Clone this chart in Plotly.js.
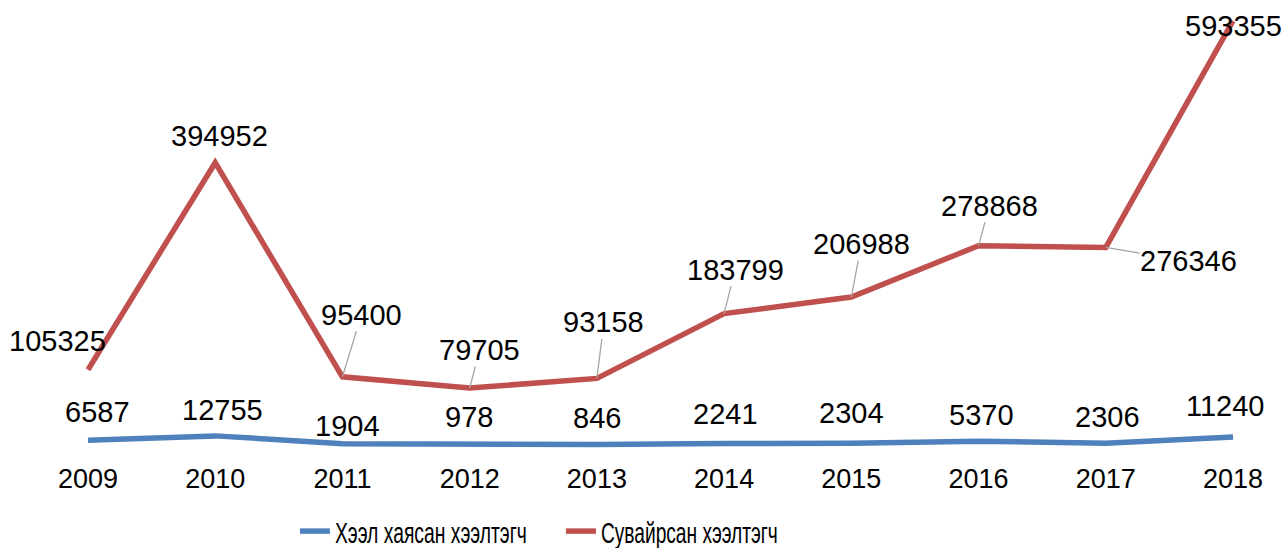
<!DOCTYPE html>
<html>
<head>
<meta charset="utf-8">
<script src="https://cdn.plot.ly/plotly-3.0.1.min.js"></script>
<style>
html,body{margin:0;padding:0;background:#fff;}
#chart{width:1284px;height:548px;}
</style>
</head>
<body>
<div id="chart"></div>
<script>
// Data
var years = ['2009','2010','2011','2012','2013','2014','2015','2016','2017','2018'];
var seriesBlueName = 'Хээл хаясан хээлтэгч';
var seriesRedName = 'Сувайрсан хээлтэгч';
var blueValues = [6587, 12755, 1904, 978, 846, 2241, 2304, 5370, 2306, 11240];
var redValues = [105325, 394952, 95400, 79705, 93158, 183799, 206988, 278868, 276346, 593355];

// Label placement (pixel offsets from the point: [dx, dy, leader])
var redLabelOffsets = [[-31,-29,false],[4,-27,false],[19,-62,true],[10,-38,true],[7,-56,true],[11,-44,true],[10,-53,true],[11,-40,true],[83,14,true],[0,5,false]];
var blueLabelOffsets = [[9,-28],[7,-26],[5,-18],[-1,-27],[0,-26],[1,-29],[0,-30],[3,-26],[2,-26],[-8,-31]];
var legendTextWidths = [192, 177];

var BLUE = '#4F81BD', RED = '#C0504D';
var FONT = 'Liberation Sans, Arial, sans-serif';

var traces = [
  {x: years, y: blueValues, name: seriesBlueName, type: 'scatter', mode: 'lines',
   line: {color: BLUE, width: 5.5}, hoverinfo: 'x+y'},
  {x: years, y: redValues, name: seriesRedName, type: 'scatter', mode: 'lines',
   line: {color: RED, width: 5.5}, hoverinfo: 'x+y'}
];

var annotations = [];
redValues.forEach(function(v, i){
  var o = redLabelOffsets[i];
  annotations.push({
    x: i, y: v, xref: 'x', yref: 'y', text: String(v),
    showarrow: o[2], arrowhead: 0, arrowwidth: 1.3, arrowcolor: '#A6A6A6',
    ax: o[0], ay: o[1], xshift: o[2] ? 0 : o[0], yshift: o[2] ? 0 : -o[1],
    font: {family: FONT, size: 29, color: '#000'}, standoff: 0, borderpad: 0
  });
});
blueValues.forEach(function(v, i){
  var o = blueLabelOffsets[i];
  annotations.push({
    x: i, y: v, xref: 'x', yref: 'y', text: String(v), showarrow: false,
    xshift: o[0], yshift: -o[1],
    font: {family: FONT, size: 29, color: '#000'}
  });
});

var layout = {
  width: 1284, height: 548,
  margin: {l: 20, r: 20, t: 10, b: 88, autoexpand: false},
  paper_bgcolor: '#fff', plot_bgcolor: '#fff',
  showlegend: true,
  xaxis: {type: 'category', range: [-0.5345, 9.2437], showgrid: false, zeroline: false,
          showline: false, ticks: '', tickfont: {family: FONT, size: 27, color: '#000'},
          ticklabelstandoff: 0, fixedrange: true, automargin: false},
  yaxis: {range: [-20985, 608565], showgrid: false, zeroline: false, showline: false,
          showticklabels: false, ticks: '', fixedrange: true, automargin: false},
  legend: {orientation: 'h', x: 0.221, xanchor: 'left', y: -0.158, yanchor: 'middle',
           font: {family: FONT, size: 30, color: '#000'},
           bgcolor: 'rgba(0,0,0,0)', itemwidth: 30, entrywidth: 221, entrywidthmode: 'pixels'},
  annotations: annotations
};

Plotly.newPlot('chart', traces, layout, {displayModeBar: false, staticPlot: true}).then(function(){
  var texts = document.querySelectorAll('.legendtext');
  texts.forEach(function(t, i){
    var w = t.getComputedTextLength();
    if (!w) return;
    var sx = legendTextWidths[i] / w;
    var x0 = parseFloat(t.getAttribute('x')) || 0;
    t.setAttribute('transform', 'translate(' + x0 + ',0) scale(' + sx + ',1) translate(' + (-x0) + ',0)');
  });
});
</script>
</body>
</html>
